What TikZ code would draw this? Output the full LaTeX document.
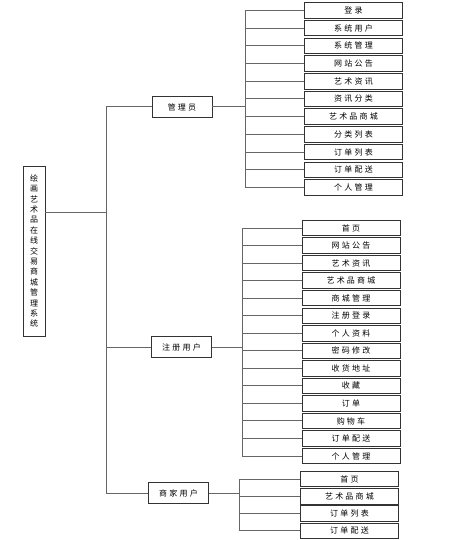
\documentclass[tikz,border=0pt]{standalone}
\usepackage{fontspec}
\newfontfamily\cjk[LetterSpace=28]{Noto Sans CJK SC}
\begin{document}
\begin{tikzpicture}[x=1pt,y=-1pt,
  box/.style={draw=black!80, line width=0.9pt, inner sep=0pt, font=\cjk\fontsize{8}{9}\selectfont},
  leaf/.style={box, minimum width=98pt, minimum height=15.5pt},
  mid/.style={box, minimum width=60pt, minimum height=21pt},
  conn/.style={draw=black!60, line width=1pt}]
\useasboundingbox (0,0) rectangle (462,540);
\fill[white] (0,0) rectangle (462,540);
% root
\node[box, minimum width=22pt, minimum height=170pt, align=center, font=\cjk\fontsize{8}{10.4}\selectfont] (root) at (34,251)
 {绘\\画\\艺\\术\\品\\在\\线\\交\\易\\商\\城\\管\\理\\系\\统};
% mid nodes
\node[mid] (admin) at (182,107) {管理员};
\node[mid] (reg) at (181.5,347) {注册用户};
\node[mid] (merch) at (178.5,493) {商家用户};
% trunk
\coordinate (trunkT) at (106,107);
\coordinate (trunkB) at (106,493);
\coordinate (trunkR) at (106,212);
\draw[conn] (trunkT) -- (trunkB);
\draw[conn] (root.east |- trunkR) -- (trunkR);
\draw[conn] (trunkT) -- (admin.west);
\draw[conn] (reg.west -| trunkT) -- (reg.west);
\draw[conn] (trunkB) -- (merch.west);
% admin leaves
\coordinate (busA) at (245,107);
\foreach \t [count=\i from 0] in {登录,系统用户,系统管理,网站公告,艺术资讯,资讯分类,艺术品商城,分类列表,订单列表,订单配送,个人管理}{
  \node[leaf] (a\i) at (353.5,{10.5+17.7*\i}) {\t};
  \draw[conn] (a\i.west -| busA) -- (a\i.west);
}
\draw[conn] (a0.west -| busA) -- (a10.west -| busA);
\draw[conn] (admin.east) -- (busA);
% registered leaves
\coordinate (busR) at (242,347);
\foreach \t [count=\i from 0] in {首页,网站公告,艺术资讯,艺术品商城,商城管理,注册登录,个人资料,密码修改,收货地址,收藏,订单,购物车,订单配送,个人管理}{
  \node[leaf] (r\i) at (351,{228+17.54*\i}) {\t};
  \draw[conn] (r\i.west -| busR) -- (r\i.west);
}
\draw[conn] (r0.west -| busR) -- (r13.west -| busR);
\draw[conn] (reg.east) -- (busR);
% merchant leaves
\coordinate (busM) at (239,493);
\foreach \t [count=\i from 0] in {首页,艺术品商城,订单列表,订单配送}{
  \node[leaf] (m\i) at (349.5,{479+17.3*\i}) {\t};
  \draw[conn] (m\i.west -| busM) -- (m\i.west);
}
\draw[conn] (m0.west -| busM) -- (m3.west -| busM);
\draw[conn] (merch.east) -- (busM);
\end{tikzpicture}
\end{document}
